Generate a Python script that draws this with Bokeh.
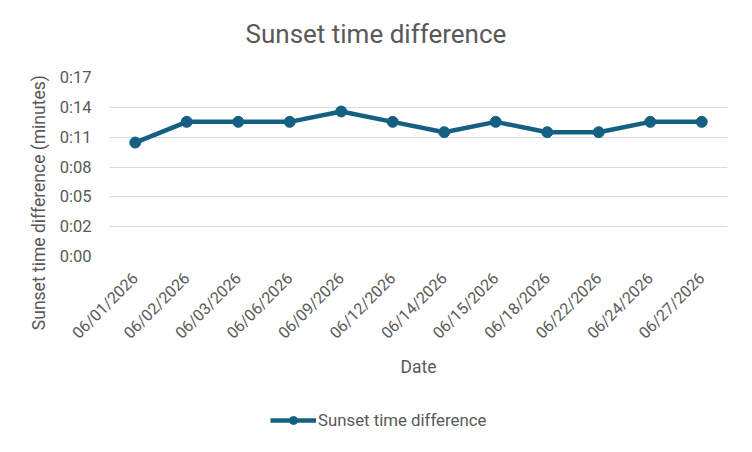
import math
from bokeh.plotting import figure
from bokeh.layouts import column
from bokeh.models import Range1d, FixedTicker, Legend, LegendItem, ColumnDataSource, Title
from bokeh.embed import file_html
from bokeh.resources import INLINE

dates = ["06/01/2026", "06/02/2026", "06/03/2026", "06/06/2026", "06/09/2026", "06/12/2026",
         "06/14/2026", "06/15/2026", "06/18/2026", "06/22/2026", "06/24/2026", "06/27/2026"]
diff_minutes = [11, 13, 13, 13, 14, 13, 12, 13, 12, 12, 13, 13]
y_ticks = [0, 2.88, 5.76, 8.64, 11.52, 14.4, 17.28]
y_tick_labels = ["0:00", "0:02", "0:05", "0:08", "0:11", "0:14", "0:17"]

title_text = "Sunset time difference"
x_title = "Date"
y_title = "Sunset time difference (minutes)"
series_name = "Sunset time difference"

FONT = "Roboto"
TXT = "#595959"
LINE = "#156082"
GRID = "#D9D9D9"
W = 736

xs = list(range(len(dates)))
src = ColumnDataSource(dict(x=xs, y=diff_minutes))

# ---- main chart ----
MAIN_H = 400
p = figure(width=W, height=MAIN_H, output_backend="svg", toolbar_location=None,
           x_range=Range1d(-0.5, len(dates) - 0.5), y_range=Range1d(y_ticks[0], y_ticks[-1]),
           min_border_left=109, min_border_right=9, min_border_top=77, min_border_bottom=144)
p.outline_line_color = None
p.background_fill_color = "white"
p.border_fill_color = "white"
p.xgrid.grid_line_color = None
p.ygrid.grid_line_color = GRID
p.ygrid.grid_line_width = 1

p.xaxis.ticker = FixedTicker(ticks=xs)
p.xaxis.major_label_overrides = {i: d for i, d in zip(xs, dates)}
p.xaxis.major_label_orientation = math.pi / 4
p.yaxis.ticker = FixedTicker(ticks=y_ticks)
p.yaxis.major_label_overrides = {t: l for t, l in zip(y_ticks, y_tick_labels)}
for ax in (p.xaxis, p.yaxis):
    ax.axis_line_color = None
    ax.major_tick_line_color = None
    ax.minor_tick_line_color = None
    ax.major_tick_out = 0
    ax.major_tick_in = 0
    ax.major_label_text_font = FONT
    ax.major_label_text_font_size = "16px"
    ax.major_label_text_color = TXT
    ax.axis_label_text_font = FONT
    ax.axis_label_text_font_size = "17.5px"
    ax.axis_label_text_font_style = "normal"
    ax.axis_label_text_color = TXT
p.xaxis.major_label_standoff = 19
p.yaxis.major_label_standoff = 18
p.yaxis.major_label_text_font_size = "16.5px"
# trailing en-spaces shift the centred y title down, as in the reference
p.yaxis.axis_label = y_title + "\u2002" * 8
p.yaxis.axis_label_standoff = 8
p.xaxis.axis_label = x_title
p.xaxis.axis_label_standoff = 5

p.line("x", "y", source=src, line_color=LINE, line_width=4.5)
p.scatter("x", "y", source=src, size=11, fill_color=LINE, line_color=LINE)

# chart title (spacer keeps it up near the top edge)
p.add_layout(Title(text=" ", text_font_size="1px", standoff=24), "above")
p.add_layout(Title(text=title_text, align="left", offset=136, vertical_align="top", standoff=0,
                   text_font=FONT, text_font_size="26px", text_font_style="normal",
                   text_color=TXT), "above")

# ---- legend strip ----
BOT_H = 36
bot = figure(width=W, height=BOT_H, output_backend="svg", toolbar_location=None,
             x_axis_location=None, y_axis_location=None,
             x_range=Range1d(109, 727), y_range=Range1d(0, BOT_H),
             min_border_left=109, min_border_right=9, min_border_top=0, min_border_bottom=0)
bot.outline_line_color = None
bot.xgrid.grid_line_color = None
bot.ygrid.grid_line_color = None
bot.background_fill_color = "white"
bot.border_fill_color = "white"
# same series, outside this strip's visible range: only its legend sample shows
lg_line = bot.line("x", "y", source=src, line_color=LINE, line_width=4.5)
lg_pts = bot.scatter("x", "y", source=src, size=11, fill_color=LINE, line_color=LINE)
legend = Legend(items=[LegendItem(label=series_name, renderers=[lg_line, lg_pts])],
                location=(161, 6), orientation="horizontal",
                glyph_width=46, glyph_height=20, label_standoff=2, padding=0, margin=0,
                label_text_font=FONT, label_text_font_size="16.8px", label_text_color=TXT,
                border_line_color=None, background_fill_alpha=0)
bot.add_layout(legend, "center")

layout = column(p, bot, spacing=0)
open("out.html", "w").write(file_html(layout, INLINE))
